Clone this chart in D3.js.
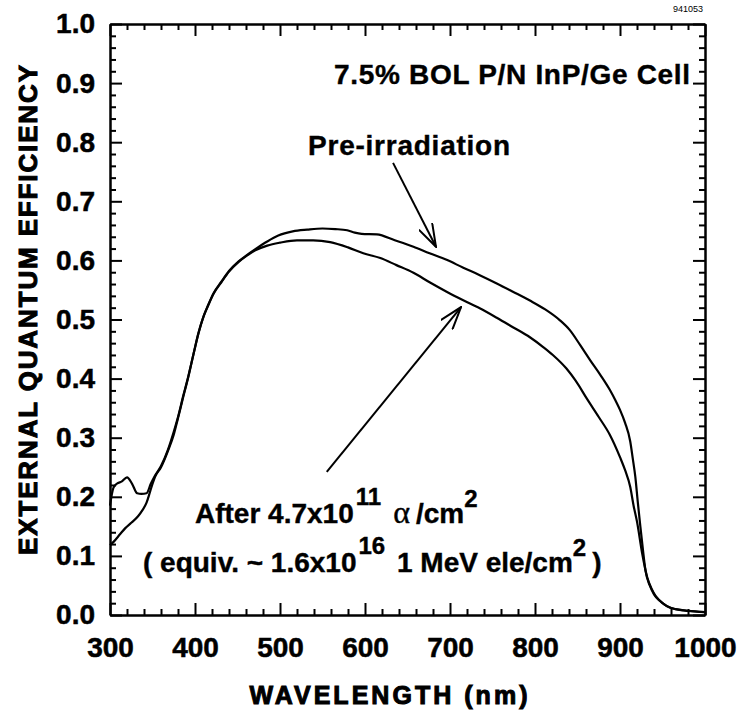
<!DOCTYPE html>
<html>
<head>
<meta charset="utf-8">
<script src="https://cdn.jsdelivr.net/npm/d3@7"></script>
<style>
  body { margin: 0; background: #fff; }
  svg { display: block; background: #fff; }
  text { font-family: "Liberation Sans", Arial, sans-serif; fill: #000; }
</style>
</head>
<body>
<svg id="chart" width="739" height="715"></svg>
<script>
// Tick values
const wavelengthTicks = [300, 400, 500, 600, 700, 800, 900, 1000];
const efficiencyTicks = [0, 0.1, 0.2, 0.3, 0.4, 0.5, 0.6, 0.7, 0.8, 0.9, 1.0];

// Pre-irradiation curve
const preWavelength = [300, 304, 308, 314, 320, 326, 332, 337, 343, 348, 353, 360, 368, 375, 380, 386, 392, 398, 404, 410,
  415, 422, 431, 440, 451, 461, 471, 485, 498, 515, 532, 550, 565, 579, 588, 596, 614, 635, 657, 676,
  696, 715, 735, 755, 774, 794, 812, 829, 841, 853, 865, 877, 888, 895, 900, 906, 912, 915, 918, 921,
  924, 927, 930, 935, 940, 947, 955, 965, 980, 1000];
const preEfficiency = [0.185, 0.215, 0.222, 0.226, 0.233, 0.222, 0.206, 0.205, 0.206, 0.222, 0.236, 0.252, 0.279, 0.31, 0.335, 0.37, 0.403, 0.44, 0.477, 0.505,
  0.523, 0.545, 0.564, 0.582, 0.598, 0.609, 0.619, 0.632, 0.642, 0.649, 0.652, 0.654, 0.653, 0.651, 0.647, 0.645, 0.644, 0.634, 0.623, 0.612,
  0.601, 0.588, 0.575, 0.561, 0.547, 0.532, 0.517, 0.499, 0.482, 0.457, 0.431, 0.406, 0.381, 0.362, 0.347, 0.325, 0.294, 0.265, 0.234, 0.19,
  0.149, 0.11, 0.075, 0.05, 0.035, 0.024, 0.015, 0.01, 0.007, 0.005];

// After 4.7x10^11 alpha/cm^2
const afterWavelength = [300, 305, 312, 318, 325, 333, 338, 343, 347, 350, 353, 360, 368, 375, 380, 386, 392, 398, 404, 410,
  415, 422, 431, 440, 451, 461, 471, 485, 500, 520, 539, 559, 580, 598, 618, 637, 657, 676, 696, 715,
  735, 755, 774, 794, 810, 821, 837, 848, 861, 875, 888, 900, 906, 912, 916, 920, 926, 932, 937, 942,
  950, 960, 975, 1000];
const afterEfficiency = [0.118, 0.125, 0.137, 0.147, 0.156, 0.167, 0.177, 0.19, 0.208, 0.222, 0.234, 0.25, 0.277, 0.305, 0.333, 0.368, 0.402, 0.44, 0.476, 0.505,
  0.522, 0.544, 0.563, 0.581, 0.597, 0.608, 0.617, 0.625, 0.63, 0.634, 0.634, 0.631, 0.622, 0.612, 0.604, 0.592, 0.579, 0.563, 0.547, 0.533,
  0.519, 0.503, 0.487, 0.47, 0.453, 0.44, 0.417, 0.396, 0.366, 0.335, 0.305, 0.267, 0.245, 0.217, 0.185, 0.158, 0.105, 0.064, 0.045, 0.032,
  0.02, 0.012, 0.008, 0.005];

// Annotation arrows, [tail, tip] in data units
const preArrow = [[633, 0.765], [683.5, 0.623]];
const afterArrow = [[555, 0.242], [713, 0.521]];

const width = 739, height = 715;
const margin = { top: 24, right: 34, bottom: 100, left: 110 };

const svg = d3.select('#chart');

const x = d3.scaleLinear().domain([300, 1000]).range([margin.left, width - margin.right]);
const y = d3.scaleLinear().domain([0, 1]).range([height - margin.bottom, margin.top]);

const minorX = d3.range(300, 1001, 20).filter(d => d % 100 !== 0);
const minorY = d3.range(0, 51).map(i => i / 50).filter((d, i) => i % 5 !== 0);

const fmtY = d3.format('.1f');

function addAxis(axis, tx, ty, labelled) {
  const g = svg.append('g').attr('transform', `translate(${tx},${ty})`).call(axis);
  g.select('.domain').attr('stroke-width', 2);
  g.selectAll('.tick line').attr('stroke-width', 2);
  if (labelled) {
    g.selectAll('.tick text')
      .attr('font-size', 28)
      .attr('font-weight', 'bold')
      .attr('font-family', '"Liberation Sans", Arial, sans-serif')
      .attr('stroke', '#000')
      .attr('stroke-width', 0.5);
  } else {
    g.selectAll('.tick text').remove();
  }
  return g;
}

const bottomY = y(0), topY = y(1), leftX = x(300), rightX = x(1000);

// Major ticks with labels
addAxis(d3.axisBottom(x).tickValues(wavelengthTicks).tickSizeInner(-12).tickSizeOuter(0).tickPadding(22).tickFormat(d3.format('d')), 0, bottomY, true);
addAxis(d3.axisLeft(y).tickValues(efficiencyTicks).tickSizeInner(-12).tickSizeOuter(0).tickPadding(15).tickFormat(fmtY), leftX, 0, true);
addAxis(d3.axisTop(x).tickValues(wavelengthTicks).tickSizeInner(-12).tickSizeOuter(0), 0, topY, false);
addAxis(d3.axisRight(y).tickValues(efficiencyTicks).tickSizeInner(-12).tickSizeOuter(0), rightX, 0, false);

// Minor ticks
addAxis(d3.axisBottom(x).tickValues(minorX).tickSizeInner(-6).tickSizeOuter(0), 0, bottomY, false);
addAxis(d3.axisTop(x).tickValues(minorX).tickSizeInner(-6).tickSizeOuter(0), 0, topY, false);
addAxis(d3.axisLeft(y).tickValues(minorY).tickSizeInner(-6).tickSizeOuter(0), leftX, 0, false);
addAxis(d3.axisRight(y).tickValues(minorY).tickSizeInner(-6).tickSizeOuter(0), rightX, 0, false);

// Curves
const line = d3.line()
  .x(d => x(d[0]))
  .y(d => y(d[1]))
  .curve(d3.curveMonotoneX);

const preData = preWavelength.map((w, i) => [w, preEfficiency[i]]);
const afterData = afterWavelength.map((w, i) => [w, afterEfficiency[i]]);

[preData, afterData].forEach(data => {
  svg.append('path')
    .datum(data)
    .attr('fill', 'none')
    .attr('stroke', '#000')
    .attr('stroke-width', 2.2)
    .attr('stroke-linejoin', 'round')
    .attr('d', line);
});

// Arrows (open heads)
svg.append('defs').append('marker')
  .attr('id', 'head')
  .attr('viewBox', '0 0 24 16')
  .attr('refX', 23)
  .attr('refY', 8)
  .attr('markerWidth', 24)
  .attr('markerHeight', 16)
  .attr('markerUnits', 'userSpaceOnUse')
  .attr('orient', 'auto')
  .append('path')
  .attr('d', 'M0,0.5 L23,8 L0,15.5')
  .attr('fill', 'none')
  .attr('stroke', '#000')
  .attr('stroke-width', 2);

[preArrow, afterArrow].forEach(a => {
  svg.append('line')
    .attr('x1', x(a[0][0])).attr('y1', y(a[0][1]))
    .attr('x2', x(a[1][0])).attr('y2', y(a[1][1]))
    .attr('stroke', '#000')
    .attr('stroke-width', 2)
    .attr('marker-end', 'url(#head)');
});

// Annotations
const label = (sel) => sel.attr('font-size', 28).attr('font-weight', 'bold')
  .attr('stroke', '#000').attr('stroke-width', 0.4);

svg.append('text')
  .attr('x', x(982.4)).attr('y', y(0.8985))
  .attr('text-anchor', 'end')
  .call(label)
  .attr('textLength', 356)
  .text('7.5% BOL P/N InP/Ge Cell');

svg.append('text')
  .attr('x', x(533)).attr('y', y(0.778))
  .call(label)
  .attr('textLength', 202)
  .text('Pre-irradiation');

const after = svg.append('text')
  .attr('x', x(400)).attr('y', y(0.1557))
  .call(label);
after.append('tspan').text('After 4.7x10');
after.append('tspan').attr('font-size', 24).attr('dy', -18).attr('dx', 2).text('11');
after.append('tspan').attr('dy', 18).attr('dx', 12)
  .attr('font-family', '"Liberation Serif", serif').attr('font-weight', 'normal').attr('font-size', 32).text('α');
after.append('tspan').attr('dx', 6).text('/cm');
after.append('tspan').attr('font-size', 24).attr('dy', -16).text('2');

const equiv = svg.append('text')
  .attr('x', x(338.8)).attr('y', y(0.0728))
  .call(label);
equiv.append('tspan').text('( equiv. ~ 1.6x10');
equiv.append('tspan').attr('font-size', 24).attr('dy', -18).attr('dx', 2).text('16');
equiv.append('tspan').attr('dy', 18).attr('dx', 4).text(' 1 MeV ele/cm');
equiv.append('tspan').attr('font-size', 24).attr('dy', -16).text('2');
equiv.append('tspan').attr('dy', 16).attr('dx', 6).text(')');

// Figure number
svg.append('text')
  .attr('x', 703).attr('y', 12)
  .attr('text-anchor', 'end')
  .attr('font-size', 9)
  .text('941053');

// Axis titles
svg.append('text')
  .attr('x', (leftX + rightX) / 2 - 19).attr('y', 704)
  .attr('text-anchor', 'middle')
  .attr('font-family', '"DejaVu Sans", sans-serif')
  .attr('font-size', 25).attr('font-weight', 'bold')
  .attr('stroke', '#000').attr('stroke-width', 1)
  .attr('textLength', 278)
  .text('WAVELENGTH (nm)');

svg.append('text')
  .attr('transform', `translate(37,${310}) rotate(-90)`)
  .attr('text-anchor', 'middle')
  .attr('font-family', '"DejaVu Sans", sans-serif')
  .attr('font-size', 26).attr('font-weight', 'bold')
  .attr('stroke', '#000').attr('stroke-width', 1)
  .attr('textLength', 490)
  .text('EXTERNAL QUANTUM EFFICIENCY');
</script>
</body>
</html>
